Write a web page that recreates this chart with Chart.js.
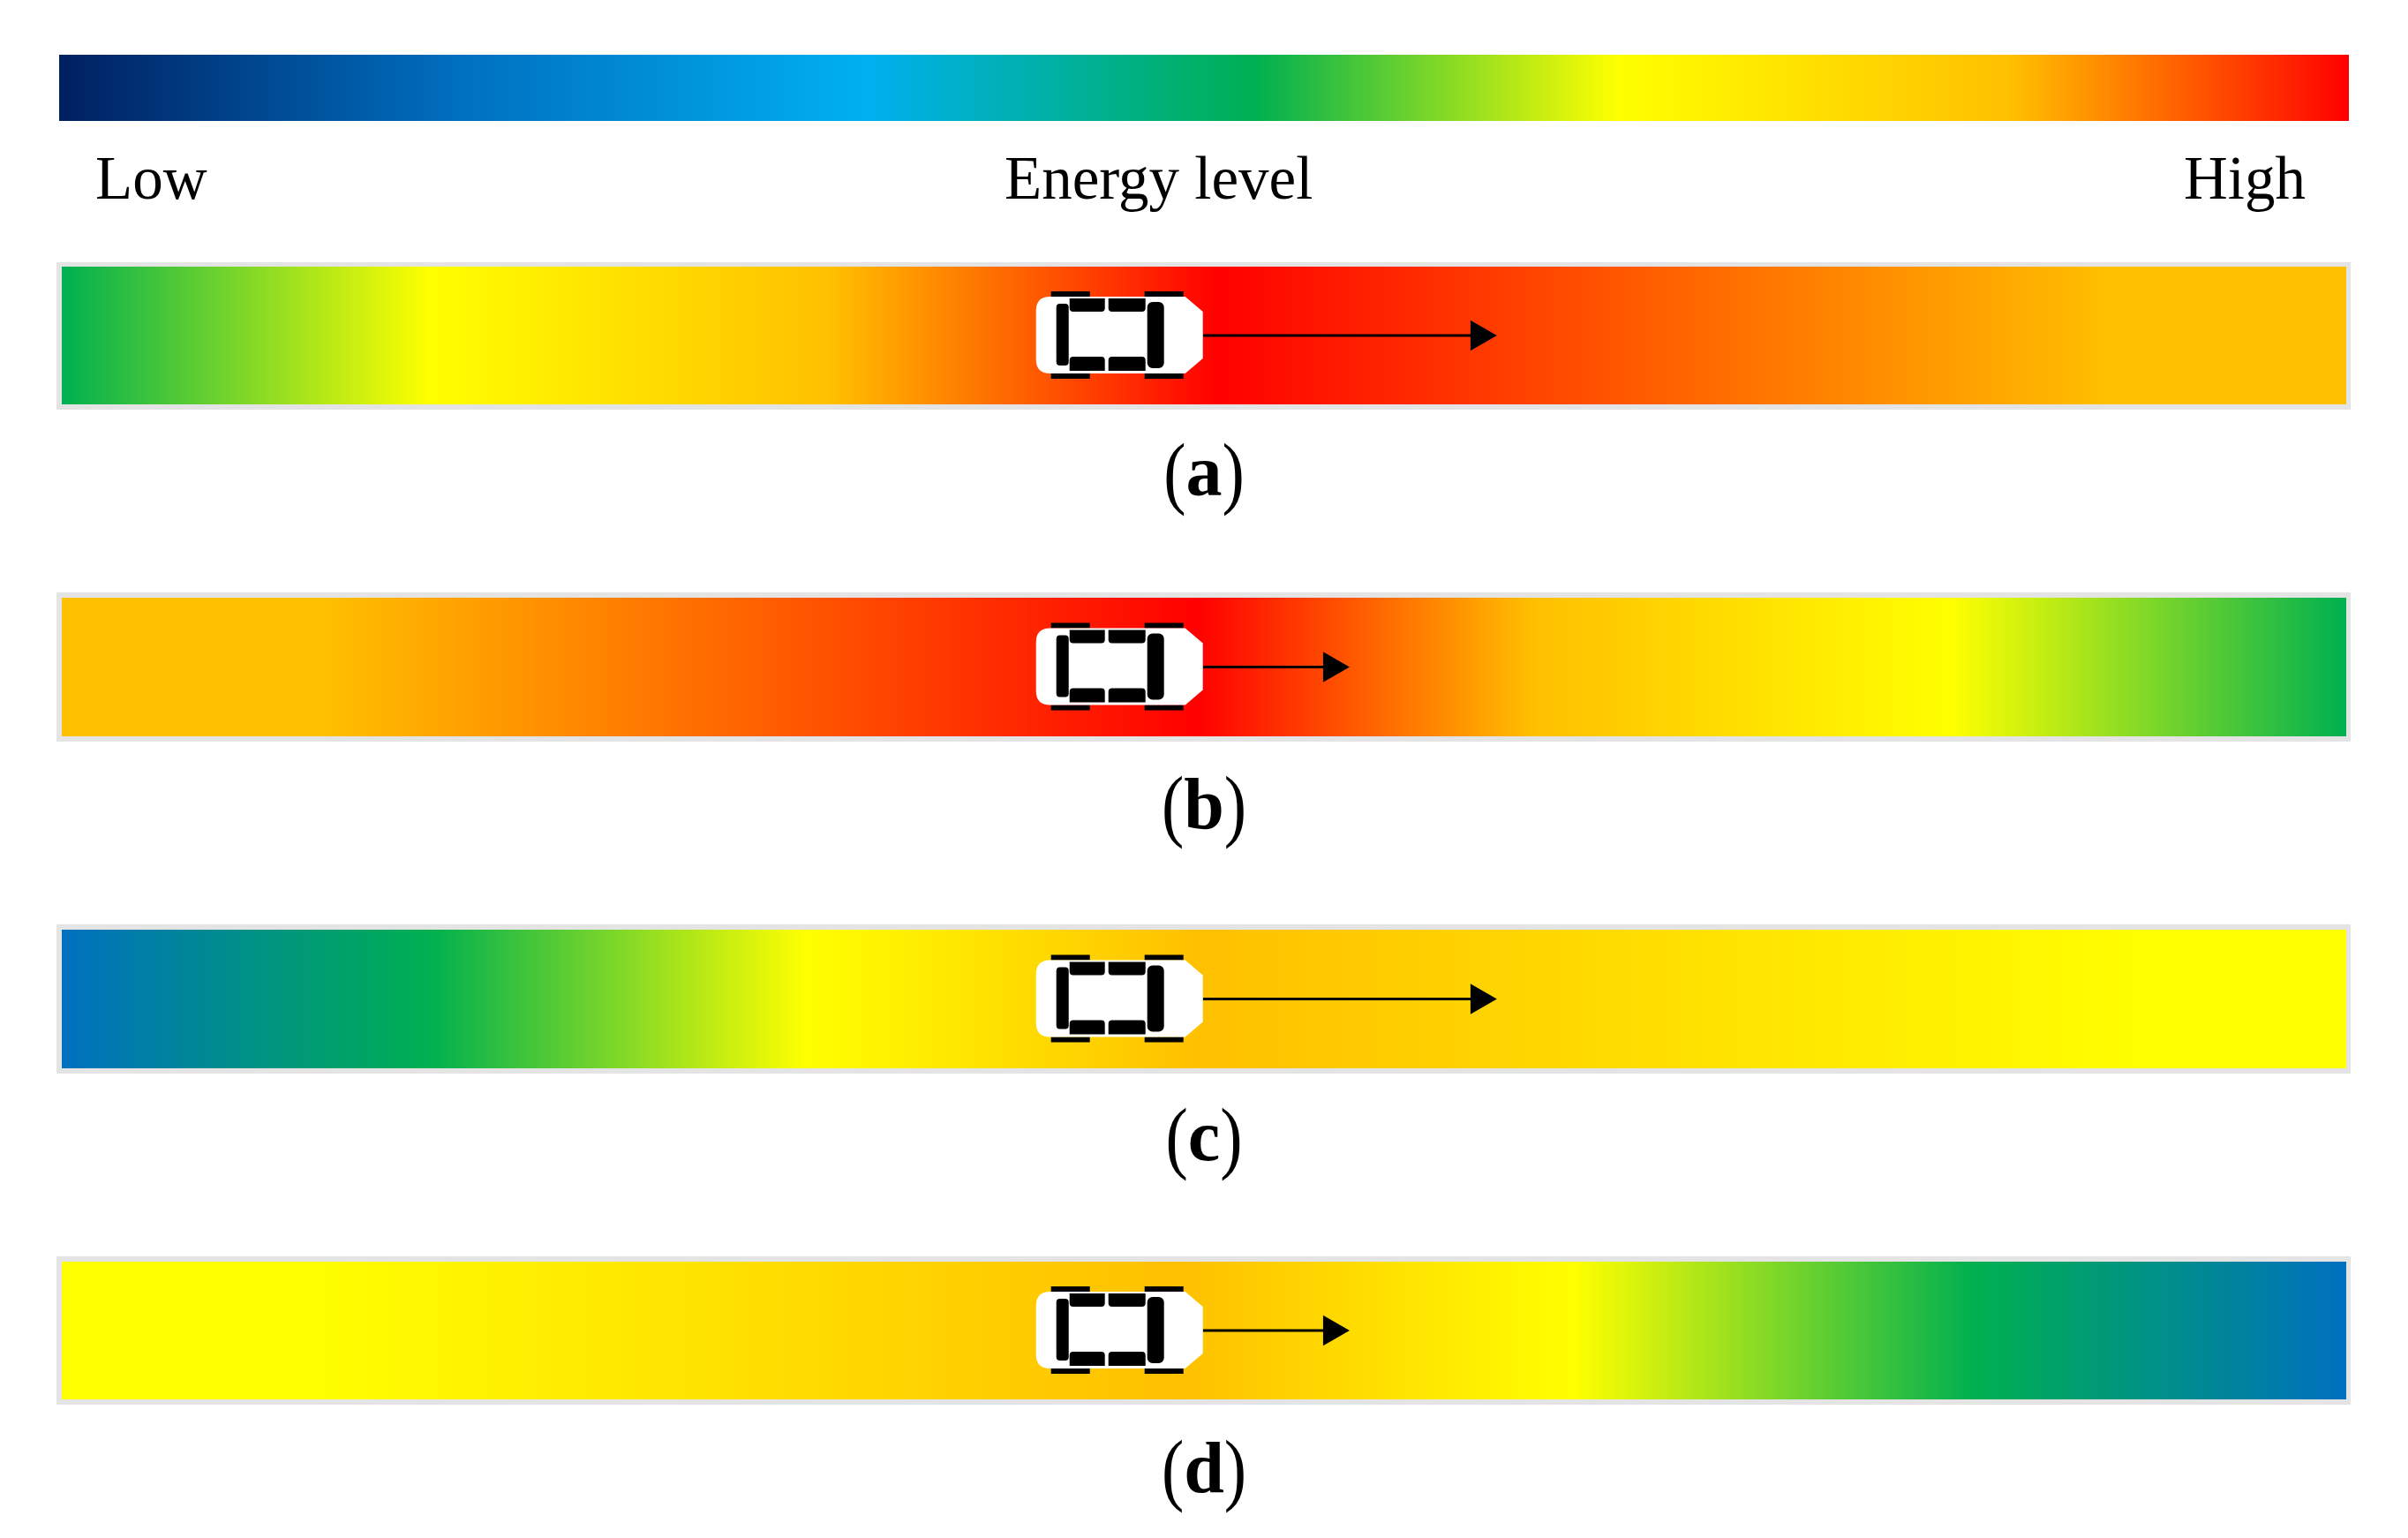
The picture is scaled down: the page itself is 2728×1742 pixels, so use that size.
<!DOCTYPE html>
<html>
<head>
<meta charset="utf-8">
<title>Energy level</title>
<script src="https://cdn.jsdelivr.net/npm/chart.js@4"></script>
<style>
    html, body { margin: 0; padding: 0; background: #fff; width: 2728px; height: 1742px; overflow: hidden; }
    canvas { position: absolute; display: block; }
    .road { position: absolute; left: 64px; width: 2599px; background: #e4e4e4; }
    .label { position: absolute; top: 168px; font-family: "Liberation Serif", serif; font-size: 69px; line-height: 1; color: #000; white-space: nowrap; }
    .caption { position: absolute; left: 1214px; width: 300px; text-align: center; font-family: "Liberation Serif", serif; font-size: 76px; line-height: 1; color: #000; }
    .caption b { font-weight: bold; font-size: 82px; }
    .caption span { display: inline-block; transform: scaleY(1.2); transform-origin: 50% 59%; }
</style>
</head>
<body>
<canvas id="scale" width="2594" height="75" style="left:67px;top:62px"></canvas>
<div class="label" style="left:108px">Low</div>
<div class="label" style="left:1138px">Energy level</div>
<div class="label" style="left:2474px">High</div>

<div class="road" style="top:297px;height:167px"><canvas id="roadA" width="2588" height="156" style="left:6px;top:5px"></canvas></div>
<div class="caption" style="top:493px"><span>(</span><b>a</b><span>)</span></div>
<div class="road" style="top:671px;height:169px"><canvas id="roadB" width="2588" height="157" style="left:6px;top:6px"></canvas></div>
<div class="caption" style="top:870px"><span>(</span><b>b</b><span>)</span></div>
<div class="road" style="top:1047px;height:169px"><canvas id="roadC" width="2588" height="157" style="left:6px;top:6px"></canvas></div>
<div class="caption" style="top:1246px"><span>(</span><b>c</b><span>)</span></div>
<div class="road" style="top:1423px;height:168px"><canvas id="roadD" width="2588" height="156" style="left:6px;top:6px"></canvas></div>
<div class="caption" style="top:1622px"><span>(</span><b>d</b><span>)</span></div>

<script>
// colour of each energy level, low to high
const levelColors = ['#002060', '#0070C0', '#00B0F0', '#00B050', '#FFFF00', '#FFC000', '#FF0000'];

// colour scale on top, position in % of the bar
const scalePos = [0, 17.6, 35.2, 52.3, 68.1, 85.2, 100];
const scaleLevels = [0, 1, 2, 3, 4, 5, 6];

// roads, position in % of the road and energy level there
const posA = [0, 16.1, 33.6, 50.6, 89.6, 100];
const levelsA = [3, 4, 5, 6, 5, 5];
const posB = [0, 11.4, 49.7, 64.5, 82.7, 100];
const levelsB = [5, 5, 6, 5, 4, 3];
const posC = [0, 16.1, 32.6, 49.7, 91.4, 100];
const levelsC = [1, 3, 4, 5, 4, 4];
const posD = [0, 10.8, 49, 66.2, 83.7, 100];
const levelsD = [4, 4, 5, 4, 3, 1];

// car nose and arrow head, in % of the road
const carFront = 49.95;
const arrowLong = 62.05;
const arrowShort = 55.6;

const carPlugin = {
    id: 'car',
    afterDatasetsDraw(chart) {
        if (!chart.options.plugins.car.show) return;
        const { ctx, chartArea, scales } = chart;
        const x = scales.x.getPixelForValue(carFront);
        const y = (chartArea.top + chartArea.bottom) / 2;

        ctx.save();
        ctx.translate(x, y);

        ctx.fillStyle = '#000';
        [-172, -66].forEach(left => {
            ctx.fillRect(left, -50, 44, 6);
            ctx.fillRect(left, 43, 44, 6);
        });

        ctx.fillStyle = '#fff';
        ctx.beginPath();
        ctx.moveTo(-173, -44);
        ctx.lineTo(-20, -44);
        ctx.lineTo(0, -27);
        ctx.lineTo(0, 26);
        ctx.lineTo(-20, 43);
        ctx.lineTo(-173, 43);
        ctx.quadraticCurveTo(-189, 43, -189, 27);
        ctx.lineTo(-189, -28);
        ctx.quadraticCurveTo(-189, -44, -173, -44);
        ctx.closePath();
        ctx.fill();

        ctx.fillStyle = '#000';
        ctx.beginPath();
        ctx.roundRect(-166, -36, 14, 70, 4);
        ctx.roundRect(-63, -38, 19, 75, 6);
        ctx.roundRect(-151, -42, 40, 15, [0, 0, 4, 4]);
        ctx.roundRect(-107, -42, 42, 15, [0, 0, 4, 4]);
        ctx.roundRect(-151, 24, 40, 16, [4, 4, 0, 0]);
        ctx.roundRect(-107, 24, 42, 16, [4, 4, 0, 0]);
        ctx.fill();
        ctx.restore();
    }
};

function makeGradient(context, positions, levels) {
    const { chart } = context;
    if (!chart.chartArea) return levelColors[levels[0]];
    const g = chart.ctx.createLinearGradient(chart.scales.x.left, 0, chart.scales.x.right, 0);
    positions.forEach((p, i) => g.addColorStop(p / 100, levelColors[levels[i]]));
    return g;
}

function makeChart(id, positions, levels, arrowEnd) {
    const datasets = [{
        type: 'bar',
        data: [[0, 100]],
        order: 2,
        categoryPercentage: 1,
        barPercentage: 1,
        backgroundColor: context => makeGradient(context, positions, levels)
    }];

    if (arrowEnd) {
        datasets.push({
            type: 'line',
            indexAxis: 'y',
            order: 1,
            data: [{ x: carFront, y: 'road' }, { x: arrowEnd, y: 'road' }],
            borderColor: '#000',
            borderWidth: 3,
            pointRadius: [0, 20],
            pointStyle: 'triangle',
            pointRotation: [0, 90],
            pointBackgroundColor: '#000',
            pointBorderWidth: 0
        });
    }

    return new Chart(document.getElementById(id), {
        type: 'bar',
        data: { labels: ['road'], datasets },
        options: {
            indexAxis: 'y',
            responsive: false,
            animation: false,
            devicePixelRatio: 1,
            layout: { padding: 0, autoPadding: false },
            plugins: {
                legend: { display: false },
                title: { display: false },
                tooltip: { enabled: false },
                car: { show: !!arrowEnd }
            },
            scales: {
                x: { type: 'linear', min: 0, max: 100, display: false },
                y: { type: 'category', display: false }
            }
        },
        plugins: [carPlugin]
    });
}

makeChart('scale', scalePos, scaleLevels);
makeChart('roadA', posA, levelsA, arrowLong);
makeChart('roadB', posB, levelsB, arrowShort);
makeChart('roadC', posC, levelsC, arrowLong);
makeChart('roadD', posD, levelsD, arrowShort);
</script>
</body>
</html>
